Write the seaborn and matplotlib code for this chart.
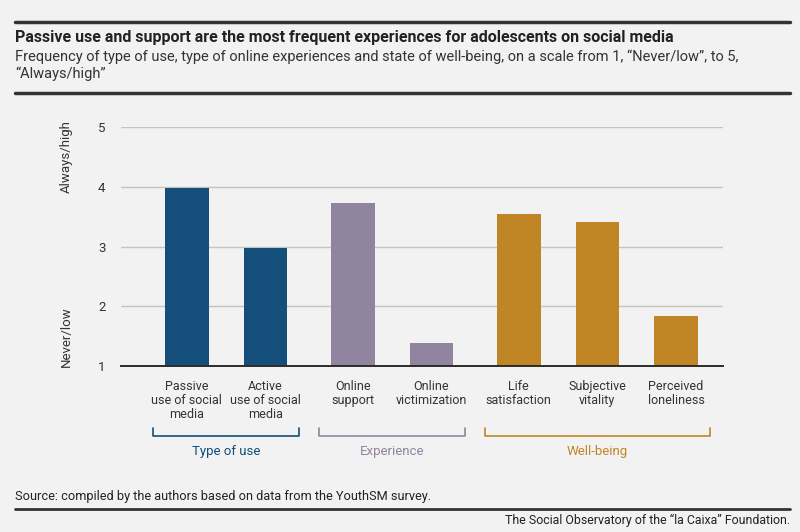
import matplotlib
matplotlib.use("Agg")
import matplotlib.pyplot as plt
import matplotlib.transforms as mtransforms
from matplotlib import font_manager
from matplotlib.lines import Line2D
import pandas as pd
import seaborn as sns

categories = [
    "Passive\nuse of social\nmedia",
    "Active\nuse of social\nmedia",
    "Online\nsupport",
    "Online\nvictimization",
    "Life\nsatisfaction",
    "Subjective\nvitality",
    "Perceived\nloneliness",
]
groups = ["Type of use", "Type of use", "Experience", "Experience",
          "Well-being", "Well-being", "Well-being"]
values = [3.98, 2.97, 3.73, 1.39, 3.55, 3.42, 1.83]
group_names = ["Type of use", "Experience", "Well-being"]
group_colors = ["#134f7a", "#91849f", "#c08626"]
y_ticks = [1, 2, 3, 4, 5]

BG = "#f2f2f2"
TXT = "#333333"

installed = {f.name for f in font_manager.fontManager.ttflist}
main_font = "Liberation Sans Narrow" if "Liberation Sans Narrow" in installed else "Roboto"

sns.set_theme(style="white")
plt.rcParams["font.family"] = [main_font, "DejaVu Sans"]

# small extra gap between groups
gap = 0.11
group_idx = [group_names.index(g) for g in groups]
positions = [i + gap * k for i, k in enumerate(group_idx)]

df = pd.DataFrame({"pos": positions, "value": values, "group": groups})

fig = plt.figure(figsize=(8, 5.32), dpi=100, facecolor=BG)
ax = fig.add_axes([0.151, 0.312, 0.753, 0.449])
ax.set_facecolor(BG)

sns.barplot(
    data=df, x="pos", y="value", hue="group", hue_order=group_names,
    palette=group_colors, native_scale=True, width=0.555, dodge=False,
    saturation=1, linewidth=0, legend=False, ax=ax, zorder=3,
)

ax.set_ylim(1, 5)
ax.set_xlim(-0.84, positions[-1] + 0.6)
ax.set_yticks(y_ticks)
ax.set_yticklabels([str(t) for t in y_ticks])
ax.set_xticks(positions)
ax.set_xticklabels(categories, fontsize=9, color=TXT, linespacing=1.1)
ax.tick_params(axis="y", length=0, pad=11, labelsize=9.5, labelcolor=TXT)
ax.tick_params(axis="x", length=0, pad=10)
ax.set_xlabel("")
ax.set_ylabel("")
for t in y_ticks[1:]:
    ax.axhline(t, color="#c4c4c4", lw=1, zorder=1)
for s in ["top", "right", "left"]:
    ax.spines[s].set_visible(False)
ax.spines["bottom"].set_color("#2b2b2b")
ax.spines["bottom"].set_linewidth(1.4)
ax.spines["bottom"].set_zorder(4)

# axis hints
trans_y = mtransforms.blended_transform_factory(ax.transAxes, ax.transData)
ax.text(-0.09, 4.5, "Always/high", transform=trans_y, rotation=90,
        ha="center", va="center", fontsize=9.5, color=TXT)
ax.text(-0.09, 1.5, "Never/low", transform=trans_y, rotation=90,
        ha="center", va="center", fontsize=9.5, color=TXT)

# group brackets
trans_x = mtransforms.blended_transform_factory(ax.transData, ax.transAxes)
for name, color in zip(group_names, group_colors):
    xs = [p for p, g in zip(positions, groups) if g == name]
    x0, x1 = min(xs) - 0.43, max(xs) + 0.43
    ax.plot([x0, x0, x1, x1], [-0.26, -0.293, -0.293, -0.26], color=color,
            lw=1.2, transform=trans_x, clip_on=False)
    ax.text((x0 + x1) / 2, -0.356, name, transform=trans_x, ha="center",
            va="center", fontsize=9.5, color=color)

# header
fig.add_artist(Line2D([0.019, 0.9875], [0.9586, 0.9586], color=TXT, lw=2.5))
fig.text(0.019, 0.930, "Passive use and support are the most frequent experiences for adolescents on social media",
         fontsize=11.5, fontweight="bold", color="#222222", va="center")
fig.text(0.019, 0.893, "Frequency of type of use, type of online experiences and state of well-being, on a scale from 1, \u201cNever/low\u201d, to 5,",
         fontsize=10.5, color=TXT, va="center")
fig.text(0.019, 0.861, "\u201cAlways/high\u201d", fontsize=10.5, color=TXT, va="center")
fig.add_artist(Line2D([0.019, 0.9875], [0.825, 0.825], color=TXT, lw=2.5))

# footer
fig.text(0.019, 0.0658, "Source: compiled by the authors based on data from the YouthSM survey.",
         fontsize=9.2, color="#222222", va="center")
fig.add_artist(Line2D([0.019, 0.9875], [0.0432, 0.0432], color=TXT, lw=2))
fig.text(0.9875, 0.0226, "The Social Observatory of the \u201cla Caixa\u201d Foundation.",
         fontsize=8.9, color="#222222", va="center", ha="right")

fig.savefig("out.png", dpi=100, facecolor=BG)
